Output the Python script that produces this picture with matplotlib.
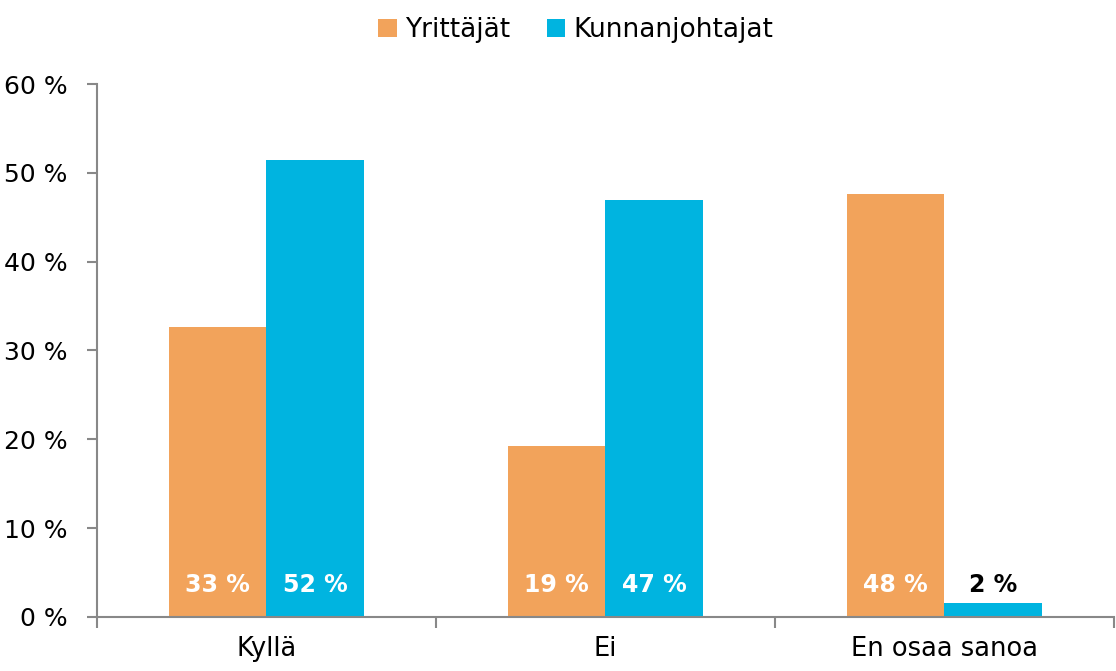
import matplotlib.pyplot as plt
import numpy as np

categories = ["Kyllä", "Ei", "En osaa sanoa"]
series_names = ["Yrittäjät", "Kunnanjohtajat"]
yrittajat = [32.6, 19.3, 47.6]
kunnanjohtajat = [51.5, 46.9, 1.6]
yticks = [0, 10, 20, 30, 40, 50, 60]

colors = ["#F2A35B", "#00B4E0"]

plt.rcParams['font.family'] = ['DejaVu Sans']

fig = plt.figure(figsize=(11.16, 6.71), dpi=100)
ax = fig.add_axes([0.0869, 0.0805, 0.9113, 0.7943])

x = np.arange(len(categories))
w = 0.287
bars1 = ax.bar(x - w / 2, yrittajat, w, color=colors[0], label=series_names[0])
bars2 = ax.bar(x + w / 2, kunnanjohtajat, w, color=colors[1], label=series_names[1])

# value labels sit near the base of each bar
for bars, vals in [(bars1, yrittajat), (bars2, kunnanjohtajat)]:
    for b, v in zip(bars, vals):
        col = "white" if v > 5 else "black"
        ax.text(b.get_x() + b.get_width() / 2, 3.6, f"{round(v)} %",
                ha="center", va="center", color=col, fontsize=17, fontweight="bold")

ax.set_xlim(-0.5, 2.5)
ax.set_ylim(0, 60)
ax.set_yticks(yticks)
ax.set_yticklabels([f"{t} %" for t in yticks], fontsize=18)
ax.set_xticks(x)
ax.set_xticklabels(categories, fontsize=18.5)
ax.tick_params(axis="x", length=0, pad=14)
ax.tick_params(axis="y", length=7, color="#888888", width=1.5, pad=14)
# category separator ticks
ax.set_xticks([-0.5, 0.5, 1.5, 2.5], minor=True)
ax.tick_params(axis="x", which="minor", length=8, color="#888888", width=1.5)

for s in ["top", "right"]:
    ax.spines[s].set_visible(False)
for s in ["left", "bottom"]:
    ax.spines[s].set_color("#888888")
    ax.spines[s].set_linewidth(1.5)

fig.legend(loc="upper center", bbox_to_anchor=(0.516, 1.01), ncol=2, frameon=False,
           fontsize=19, handlelength=0.7, handleheight=0.7, handletextpad=0.3,
           columnspacing=1.4)

fig.savefig("out.png", dpi=100)
